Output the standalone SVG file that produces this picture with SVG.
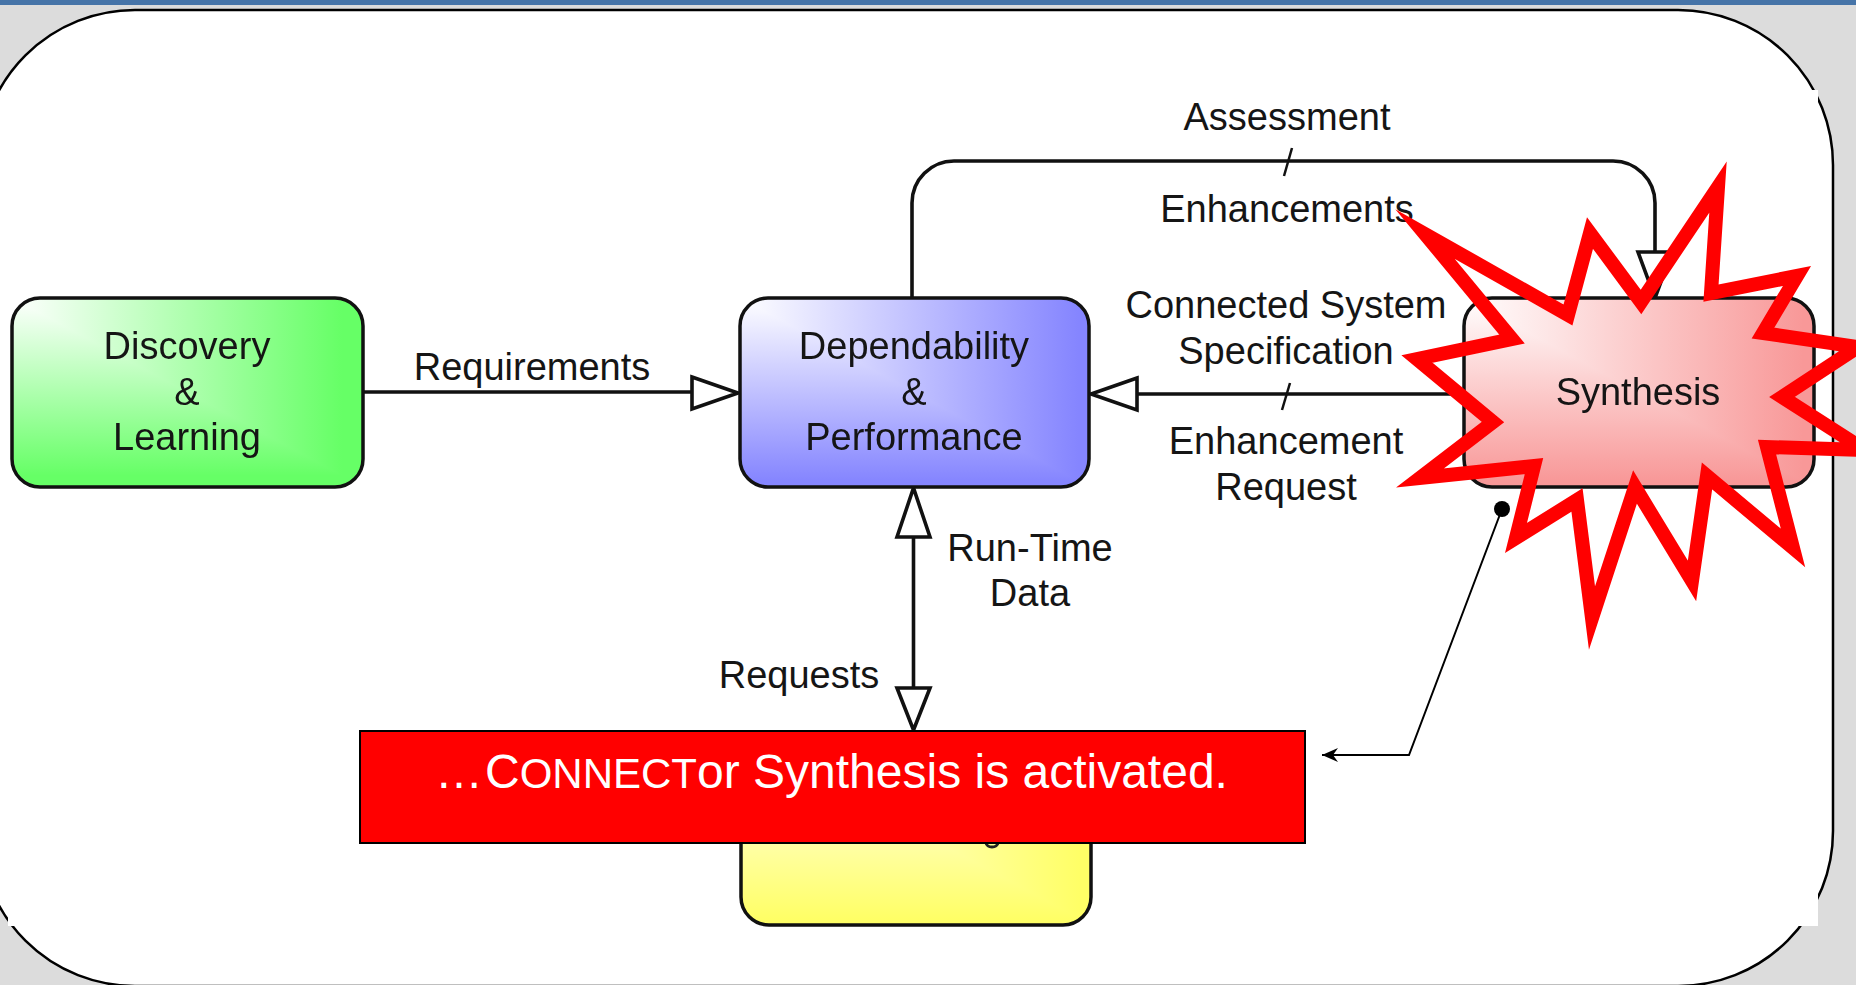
<svg xmlns="http://www.w3.org/2000/svg" width="1856" height="985" viewBox="0 0 1856 985">
<style>
.lb{font-family:"Liberation Sans",Arial,sans-serif;font-size:38px;fill:#151515;text-anchor:middle}
.ln{fill:none;stroke:#111;stroke-width:3.6}
.ah{fill:#fff;stroke:#111;stroke-width:3.6;stroke-linejoin:miter}
.tk{fill:none;stroke:#111;stroke-width:2.5}
.bd{fill:none;stroke:#111;stroke-width:3.5}
.nd{isolation:isolate}
.dk{mix-blend-mode:darken}
</style>
<defs>
<linearGradient id="gh" x1="0" y1="0" x2="1" y2="0"><stop offset="0" stop-color="#fff"/><stop offset=".94" stop-color="#66ff66"/></linearGradient>
<linearGradient id="gv" x1="0" y1="0" x2="0" y2="1"><stop offset="0" stop-color="#fff"/><stop offset=".94" stop-color="#66ff66"/></linearGradient>
<linearGradient id="bh" x1="0" y1="0" x2="1" y2="0"><stop offset="0" stop-color="#fff"/><stop offset=".97" stop-color="#8585ff"/></linearGradient>
<linearGradient id="bv" x1="0" y1="0" x2="0" y2="1"><stop offset="0" stop-color="#fff"/><stop offset=".97" stop-color="#8585ff"/></linearGradient>
<linearGradient id="rh" x1="0" y1="0" x2="1" y2="0"><stop offset="0" stop-color="#fff"/><stop offset=".97" stop-color="#f89898"/></linearGradient>
<linearGradient id="rv" x1="0" y1="0" x2="0" y2="1"><stop offset="0" stop-color="#fff"/><stop offset=".97" stop-color="#f89898"/></linearGradient>
<linearGradient id="yh" x1="0" y1="0" x2="1" y2="0"><stop offset="0" stop-color="#fff"/><stop offset=".97" stop-color="#ffff66"/></linearGradient>
<linearGradient id="yv" x1="0" y1="0" x2="0" y2="1"><stop offset="0" stop-color="#fff"/><stop offset=".97" stop-color="#ffff66"/></linearGradient>
<marker id="barb" markerUnits="userSpaceOnUse" markerWidth="18" markerHeight="16" refX="17" refY="8" orient="auto"><path d="M17 8L1 1L6 8L1 15Z" fill="#000"/></marker>
</defs>

<g id="background">
<rect width="1856" height="985" fill="#dcdcdc"/>
<rect width="1856" height="5" fill="#4674a8"/>
<rect x="-20" y="10" width="1853" height="976" rx="155" ry="155" fill="#fff" stroke="#000" stroke-width="2.5"/>
<rect x="8" y="90" width="1810" height="836" fill="#fff"/>
</g>

<g id="connectors">
<path class="ln" d="M363 392H692"/>
<path class="ah" d="M692 377L738 393L692 409Z"/>
<path class="ln" d="M912 298V203A42 42 0 0 1 954 161H1613A42 42 0 0 1 1655 203V252"/>
<path class="ah" d="M1638 252H1672L1655 298Z"/>
<path class="tk" d="M1284 176L1292 148"/>
<path class="ln" d="M1463 394H1137"/>
<path class="ah" d="M1137 378L1091 394L1137 410Z"/>
<path class="tk" d="M1282 410L1290 383"/>
<path class="ln" d="M913.500 537V688"/>
<path class="ah" d="M897 537H930L913.500 488Z"/>
<path class="ah" d="M897 688H930L913.500 730Z"/>
</g>

<g id="discovery" class="nd">
<rect x="12" y="298" width="351" height="189" rx="28" fill="url(#gh)"/>
<rect x="12" y="298" width="351" height="189" rx="28" fill="url(#gv)" class="dk"/>
<rect x="12" y="298" width="351" height="189" rx="28" class="bd"/>
<text class="lb" x="187" y="359">Discovery</text>
<text class="lb" x="187" y="405">&amp;</text>
<text class="lb" x="187" y="450">Learning</text>
</g>

<g id="dependability" class="nd">
<rect x="740" y="298" width="349" height="189" rx="28" fill="url(#bh)"/>
<rect x="740" y="298" width="349" height="189" rx="28" fill="url(#bv)" class="dk"/>
<rect x="740" y="298" width="349" height="189" rx="28" class="bd"/>
<text class="lb" x="914" y="359">Dependability</text>
<text class="lb" x="914" y="405">&amp;</text>
<text class="lb" x="914" y="450">Performance</text>
</g>

<g id="synthesis" class="nd">
<rect x="1464" y="298" width="350" height="189" rx="28" fill="url(#rh)"/>
<rect x="1464" y="298" width="350" height="189" rx="28" fill="url(#rv)" class="dk"/>
<rect x="1464" y="298" width="350" height="189" rx="28" class="bd"/>
<text class="lb" x="1638" y="405">Synthesis</text>
</g>

<g id="testing" class="nd">
<rect x="741" y="736" width="350" height="189" rx="28" fill="url(#yh)"/>
<rect x="741" y="736" width="350" height="189" rx="28" fill="url(#yv)" class="dk"/>
<rect x="741" y="736" width="350" height="189" rx="28" class="bd"/>
<path d="M986 843Q987 847 992 847Q997 847 998 843" fill="none" stroke="#222" stroke-width="3"/>
</g>

<g id="labels">
<text class="lb" x="532" y="380">Requirements</text>
<text class="lb" x="1287" y="130">Assessment</text>
<text class="lb" x="1287" y="222">Enhancements</text>
<text class="lb" x="1286" y="318">Connected System</text>
<text class="lb" x="1286" y="364">Specification</text>
<text class="lb" x="1286" y="454">Enhancement</text>
<text class="lb" x="1286" y="500">Request</text>
<text class="lb" x="1030" y="561">Run-Time</text>
<text class="lb" x="1030" y="606">Data</text>
<text class="lb" x="799" y="688">Requests</text>
</g>

<g id="burst">
<polygon points="1425,234 1568,315 1590,233 1641,302 1718,187 1711,293 1797,276 1763,333 1858,347 1782,397 1865,450 1767,447 1793,548 1707,476 1692,581 1635,487 1592,618 1577,500 1516,538 1534,466 1420,478 1493,422 1417,359 1512,339" fill="none" stroke="#f00" stroke-width="14" stroke-miterlimit="30"/>
</g>

<g id="callout">
<rect x="360" y="731" width="945" height="112" fill="#f00" stroke="#000" stroke-width="2"/>
<text x="435" y="788" font-family="'Liberation Sans',Arial,sans-serif" font-size="48" fill="#fff">…<tspan dx="2">C</tspan><tspan font-size="42">ONNECT</tspan>or Synthesis is activated.</text>
<circle cx="1502" cy="509" r="8" fill="#000"/>
<path d="M1502 509L1409 755H1322" fill="none" stroke="#000" stroke-width="2" marker-end="url(#barb)"/>
</g>
</svg>
